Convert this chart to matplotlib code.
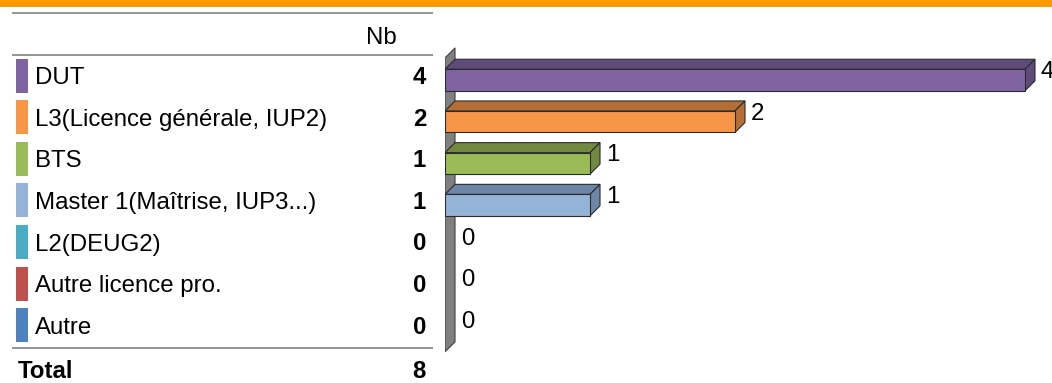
"""Horizontal 3D-style bar chart with a count table on the left (Nb per diploma)."""

import matplotlib.pyplot as plt
from matplotlib.patches import Polygon, Rectangle

categories = [
    "DUT",
    "L3(Licence générale, IUP2)",
    "BTS",
    "Master 1(Maîtrise, IUP3...)",
    "L2(DEUG2)",
    "Autre licence pro.",
    "Autre",
]
counts = [4, 2, 1, 1, 0, 0, 0]
total = 8
front_colors = ["#8064A2", "#F79646", "#9BBB59", "#95B3D7", "#4BACC6", "#C0504D", "#4F81BD"]
shade_colors = ["#5F4B7B", "#B56E36", "#718A40", "#6D86A7", "#37819A", "#8F3B39", "#3A608D"]

FONT = "Liberation Sans"
FS = 17.3
W, H = 1052, 383
BASE = 8.6  # half cap height in px, to centre text on a row

fig = plt.figure(figsize=(W / 100, H / 100), dpi=100)

# background axes in pixel units: header band, table rules and text
bg = fig.add_axes([0, 0, 1, 1])
bg.set_xlim(0, W)
bg.set_ylim(H, 0)
bg.axis("off")

bg.add_patch(Rectangle((0, 0), W, 6.5, color="#FF9900", lw=0))
for y in (13, 55, 347.5):
    bg.plot([12, 433], [y, y], color="#8C8C8C", lw=1.3, solid_capstyle="butt")

bg.text(397, 35 + BASE, "Nb", ha="right", va="baseline", fontsize=FS, family=FONT)

row_step = 41.6
for i, (name, n) in enumerate(zip(categories, counts)):
    yc = 75.5 + row_step * i
    bg.add_patch(Rectangle((16, yc - 17), 12, 34, color=front_colors[i], lw=0))
    bg.text(35, yc + BASE, name, ha="left", va="baseline", fontsize=FS, family=FONT)
    bg.text(426, yc + BASE, str(n), ha="right", va="baseline", fontsize=FS,
            family=FONT, fontweight="bold")

bg.text(18, 369 + BASE, "Total", ha="left", va="baseline", fontsize=FS,
        family=FONT, fontweight="bold")
bg.text(426, 369 + BASE, str(total), ha="right", va="baseline", fontsize=FS,
        family=FONT, fontweight="bold")

# bar axes: x in counts, y in row index
px_per_unit = 145.0
px_per_row = 41.7
x0_px, y0_px = 445, 80
ax = fig.add_axes([x0_px / W, 1 - 360 / H, (W - x0_px) / W, 320 / H])
ax.set_xlim(0, (W - x0_px) / px_per_unit)
ax.set_ylim((360 - y0_px) / px_per_row, (40 - y0_px) / px_per_row)
ax.axis("off")

dx = 10 / px_per_unit
dy = 10 / px_per_row
h = 21.5 / px_per_row
edge = "#2B2B2B"

# value-axis wall
n = len(categories)
wt, wb = -0.53, n - 0.48
ax.add_patch(Polygon([(0, wb), (0, wt), (dx, wt - dy), (dx, wb - dy)],
                     closed=True, facecolor="#808080", edgecolor="#404040", lw=0.8))

for i, v in enumerate(counts):
    top, bot = i - h / 2, i + h / 2
    if v > 0:
        ax.add_patch(Polygon([(0, top), (dx, top - dy), (v + dx, top - dy), (v, top)],
                             closed=True, facecolor=shade_colors[i], edgecolor=edge, lw=0.8))
        ax.add_patch(Polygon([(v, top), (v + dx, top - dy), (v + dx, bot - dy), (v, bot)],
                             closed=True, facecolor=shade_colors[i], edgecolor=edge, lw=0.8))
        ax.barh(i, v, height=h, left=0, color=front_colors[i], edgecolor=edge, lw=0.8)
    ax.annotate(str(v), xy=(v + dx, top), xytext=(4.3, -BASE * 0.72),
                textcoords="offset points", ha="left", va="baseline",
                fontsize=FS, family=FONT, annotation_clip=False)

fig.savefig("out.png", dpi=100)
